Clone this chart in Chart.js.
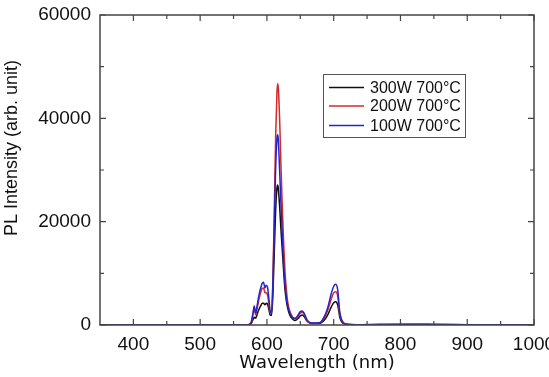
<!DOCTYPE html>
<html>
<head>
<meta charset="utf-8">
<script src="https://cdn.jsdelivr.net/npm/chart.js@4.4.0/dist/chart.umd.min.js"></script>
<style>
  html, body { margin: 0; padding: 0; background: #fff; }
</style>
</head>
<body>
<canvas id="plChart" width="549" height="377"></canvas>
<script>
// wavelength (nm) sample points
const wavelengths = [350, 450, 550, 570, 576, 579, 581, 583, 585, 587,
  589, 591, 593, 595, 597, 599, 601, 603, 605, 607,
  609, 611, 613, 615, 616, 617, 619, 621, 623, 625,
  627, 629, 631, 634, 638, 642, 646, 650, 653, 656,
  660, 665, 670, 675, 680, 684, 688, 692, 696, 700,
  703, 706, 709, 712, 715, 720, 740, 800, 850, 900,
  950, 1000];

const pl300W = [0, 0, 0, 0, 200, 1000, 1500, 1300, 1900, 2700,
  3300, 3800, 4200, 4200, 3900, 4200, 4000, 3000, 1900, 1900,
  6000, 14000, 22000, 26500, 27100, 26500, 23000, 18500, 14500, 10500,
  7000, 4800, 3300, 2000, 1200, 850, 1200, 1750, 1950, 1600,
  750, 350, 300, 300, 350, 700, 1300, 2200, 3400, 4300,
  4500, 3900, 1600, 600, 250, 100, 50, 100, 80, 50,
  30, 0];

const pl200W = [0, 0, 0, 0, 300, 2000, 3400, 2000, 3000, 4300,
  5500, 6500, 7100, 7160, 6300, 6200, 5800, 4000, 2300, 2300,
  9000, 22000, 36000, 45000, 46700, 46000, 40000, 31000, 23000, 16000,
  10500, 7000, 4600, 2800, 1600, 1100, 1600, 2300, 2450, 2000,
  900, 400, 350, 350, 450, 1000, 1900, 3200, 4900, 6200,
  6450, 5600, 2200, 850, 350, 150, 60, 120, 100, 60,
  30, 0];

const pl100W = [0, 0, 0, 0, 400, 2200, 3700, 2300, 3500, 5000,
  6300, 7300, 8100, 8260, 7150, 7700, 7300, 5000, 2600, 2300,
  8500, 19000, 30000, 36000, 36800, 36000, 30000, 23500, 17500, 12000,
  8000, 5500, 3800, 2400, 1500, 1300, 1800, 2600, 2700, 2200,
  1000, 450, 400, 400, 500, 1200, 2200, 3800, 5900, 7500,
  7900, 6800, 2600, 1000, 400, 150, 60, 150, 120, 70,
  40, 0];

const seriesLabels = ["300W 700\u00b0C", "200W 700\u00b0C", "100W 700\u00b0C"];
const seriesColors = ["#111111", "#d42a2a", "#2424c8"];

const xMajorTicks = [400, 500, 600, 700, 800, 900, 1000];
const xMinorTicks = [450, 550, 650, 750, 850, 950];
const yMajorTicks = [0, 20000, 40000, 60000];
const yMinorTicks = [10000, 30000, 50000];

const toPoints = arr => arr.map((v, i) => ({ x: wavelengths[i], y: v }));

// frame, inward ticks, titles and boxed legend
const framePlugin = {
  id: "frame",
  afterDraw(chart) {
    const { ctx, chartArea: a, scales: { x, y } } = chart;
    ctx.save();
    ctx.strokeStyle = "#444";
    ctx.lineWidth = 1.5;
    ctx.strokeRect(a.left, a.top, a.right - a.left, a.bottom - a.top);

    ctx.lineWidth = 1.2;
    ctx.beginPath();
    const xt = (vals, len) => vals.forEach(v => {
      const px = x.getPixelForValue(v);
      ctx.moveTo(px, a.bottom); ctx.lineTo(px, a.bottom - len);
      ctx.moveTo(px, a.top); ctx.lineTo(px, a.top + len);
    });
    const yt = (vals, len) => vals.forEach(v => {
      const py = y.getPixelForValue(v);
      ctx.moveTo(a.left, py); ctx.lineTo(a.left + len, py);
      ctx.moveTo(a.right, py); ctx.lineTo(a.right - len, py);
    });
    xt(xMajorTicks, 6); xt(xMinorTicks, 4);
    yt(yMajorTicks, 6); yt(yMinorTicks, 4);
    ctx.stroke();

    // axis titles
    ctx.fillStyle = "#111";
    ctx.textAlign = "center";
    ctx.textBaseline = "middle";
    ctx.font = "18px 'DejaVu Sans'";
    ctx.fillText("Wavelength (nm)", (a.left + a.right) / 2, 363);
    ctx.save();
    ctx.translate(12, 148);
    ctx.rotate(-Math.PI / 2);
    ctx.font = "18px 'Liberation Sans', Arial";
    ctx.fillText("PL Intensity (arb. unit)", 0, 0);
    ctx.restore();

    // legend box
    ctx.strokeStyle = "#555";
    ctx.lineWidth = 1;
    ctx.strokeRect(323.5, 74.5, 142, 63);
    ctx.font = "16px 'Liberation Sans', Arial";
    ctx.textAlign = "left";
    const rows = [87.5, 106, 125.5];
    seriesLabels.forEach((lab, i) => {
      ctx.strokeStyle = seriesColors[i];
      ctx.lineWidth = 1.3;
      ctx.beginPath();
      ctx.moveTo(329, rows[i]); ctx.lineTo(364, rows[i]);
      ctx.stroke();
      ctx.fillStyle = "#111";
      ctx.fillText(lab, 370, rows[i] + 1);
    });
    ctx.restore();
  }
};

new Chart(document.getElementById("plChart"), {
  type: "line",
  data: {
    // first dataset is drawn on top
    datasets: [
      { label: seriesLabels[2], data: toPoints(pl100W), borderColor: seriesColors[2] },
      { label: seriesLabels[1], data: toPoints(pl200W), borderColor: seriesColors[1] },
      { label: seriesLabels[0], data: toPoints(pl300W), borderColor: seriesColors[0] }
    ]
  },
  options: {
    responsive: false,
    animation: false,
    layout: { padding: { top: 15, right: 15, left: 0, bottom: 0 } },
    elements: {
      line: { borderWidth: 1.5, cubicInterpolationMode: "monotone" },
      point: { radius: 0 }
    },
    plugins: { legend: { display: false }, tooltip: { enabled: false } },
    scales: {
      x: {
        type: "linear",
        min: 350, max: 1000,
        grid: { display: false, drawTicks: false },
        border: { display: false },
        afterBuildTicks: s => { s.ticks = xMajorTicks.map(v => ({ value: v })); },
        afterFit: s => { s.height = 52; s.paddingLeft = 0; s.paddingRight = 0; },
        ticks: {
          autoSkip: false, maxRotation: 0, padding: 8,
          color: "#111",
          font: { family: "'Liberation Sans', Arial", size: 19 },
          callback: v => String(v)
        }
      },
      y: {
        min: 0, max: 60000,
        grid: { display: false, drawTicks: false },
        border: { display: false },
        afterBuildTicks: s => { s.ticks = yMajorTicks.map(v => ({ value: v })); },
        afterFit: s => { s.width = 100; s.paddingTop = 0; s.paddingBottom = 0; },
        ticks: {
          padding: 9,
          color: "#111",
          font: { family: "'Liberation Sans', Arial", size: 19 },
          callback: v => String(v)
        }
      }
    }
  },
  plugins: [framePlugin]
});
</script>
</body>
</html>
